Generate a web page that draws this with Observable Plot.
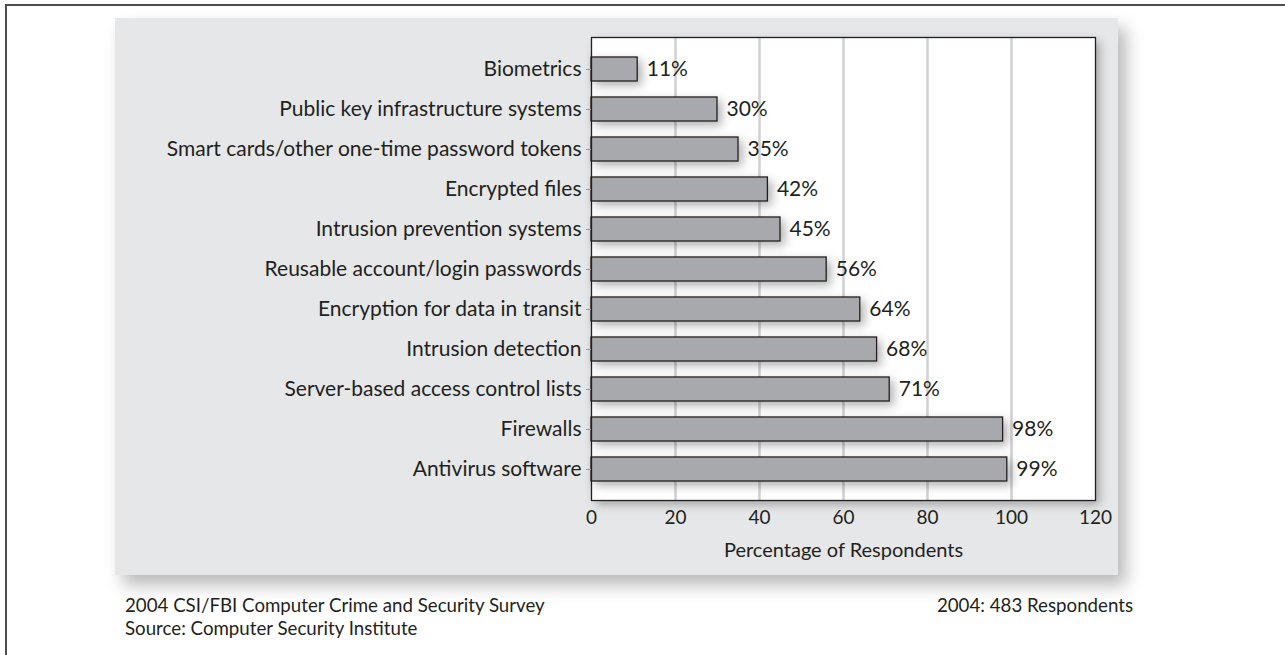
<!DOCTYPE html>
<html><head><meta charset="utf-8">
<script src="https://cdn.jsdelivr.net/npm/d3@7"></script>
<script src="https://cdn.jsdelivr.net/npm/@observablehq/plot@0.6"></script>
<style>
body{margin:0;background:#fff;font-family:Lato,"Open Sans",sans-serif;color:#231f20}
#wrap{position:relative;width:1285px;height:655px;overflow:hidden}
#outer{position:absolute;left:5px;top:4px;width:1400px;height:800px;border-left:2px solid #4d4d4d;border-top:2px solid #4d4d4d}
#panel{position:absolute;left:115px;top:18px;width:1003px;height:557px;background:#e6e7e8;box-shadow:8px 10px 16px rgba(0,0,0,0.28)}
#chart{position:absolute;left:0;top:0}
.foot{position:absolute;font-size:18.7px;line-height:23px;white-space:nowrap;color:#231f20}
</style></head>
<body>
<div id="wrap">
  <div id="outer"></div>
  <div id="panel"></div>
  <div id="chart"></div>
  <div class="foot" id="f1" style="left:125px;top:594px"></div>
  <div class="foot" id="f2" style="left:125px;top:617px"></div>
  <div class="foot" id="f3" style="right:152px;top:594px"></div>
</div>
<script>
const categories = [
  "Biometrics",
  "Public key infrastructure systems",
  "Smart cards/other one-time password tokens",
  "Encrypted files",
  "Intrusion prevention systems",
  "Reusable account/login passwords",
  "Encryption for data in transit",
  "Intrusion detection",
  "Server-based access control lists",
  "Firewalls",
  "Antivirus software"
];
const values = [11, 30, 35, 42, 45, 56, 64, 68, 71, 98, 99];
const xTicks = [0, 20, 40, 60, 80, 100, 120];
const gridTicks = [20, 40, 60, 80, 100];
const axisTitle = "Percentage of Respondents";
const footerLeft1 = "2004 CSI/FBI Computer Crime and Security Survey";
const footerLeft2 = "Source: Computer Security Institute";
const footerRight = "2004: 483 Respondents";

const data = categories.map((c, i) => ({category: c, value: values[i]}));

const chart = Plot.plot({
  width: 1285,
  height: 590,
  marginLeft: 591,
  marginRight: 190,
  marginTop: 37,
  marginBottom: 90,
  style: {background: "transparent", fontFamily: "Lato, 'Open Sans', sans-serif", fontSize: "20px", color: "#231f20", overflow: "visible"},
  x: {domain: [0, 120]},
  y: {domain: categories, paddingInner: 0.4, paddingOuter: 0.43},
  marks: [
    Plot.frame({fill: "white", stroke: null, ariaLabel: "framefill"}),
    Plot.ruleX(gridTicks, {stroke: "#cfd0d2", strokeWidth: 2.5}),
    Plot.barX(data, {x: "value", y: "category", fill: "#a7a9ac", stroke: "#231f20", strokeWidth: 1.3}),
    Plot.text(data, {x: "value", y: "category", text: d => d.value + "%", dx: 9, textAnchor: "start", fontSize: 21, fill: "#231f20"}),
    Plot.frame({stroke: "#231f20", strokeWidth: 1.3}),
    Plot.axisY({tickSize: 5, tickPadding: 5, stroke: "#9a9a9a", fontSize: 21, label: null}),
    Plot.axisX({ticks: xTicks, tickSize: 0, tickPadding: 10, fontSize: 19, label: null}),
    Plot.text([axisTitle], {frameAnchor: "bottom", dy: 56, fontSize: 20, fill: "#231f20"})
  ]
});

const svg = d3.select(chart);
const defs = svg.insert("defs", ":first-child");
const f = defs.append("filter").attr("id", "ds").attr("x", "-20%").attr("y", "-40%").attr("width", "150%").attr("height", "200%");
f.append("feDropShadow").attr("dx", 4).attr("dy", 4).attr("stdDeviation", 5).attr("flood-color", "#000").attr("flood-opacity", 0.3);
svg.select('[aria-label="framefill"]').attr("filter", "url(#ds)");
svg.select('[aria-label="bar"]').attr("filter", "url(#ds)");

document.getElementById("chart").appendChild(chart);
document.getElementById("f1").textContent = footerLeft1;
document.getElementById("f2").textContent = footerLeft2;
document.getElementById("f3").textContent = footerRight;
</script>
</body></html>
